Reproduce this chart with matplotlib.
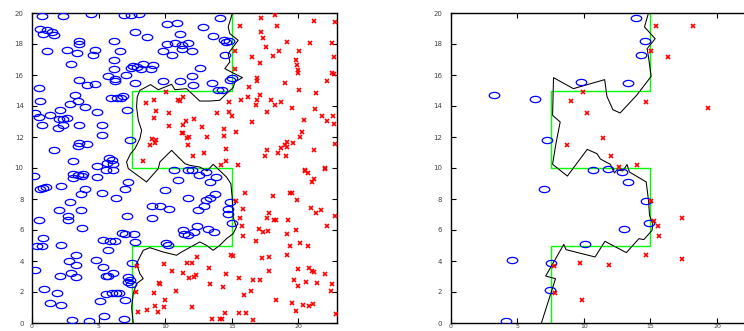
import numpy as np
import matplotlib
matplotlib.use("Agg")
import matplotlib.pyplot as plt
from matplotlib.path import Path

# ---------------- data: left panel (all training points) ----------------
blue_x = [0.78, 2.3, 4.43, 6.88, 7.43, 8.05, 14.1, 10.1, 10.85, 12.85, 13.6,
          0.6, 1.1, 1.48, 0.85, 1.68, 7.73, 8.6, 11.1, 6.15, 3.5, 3.5, 2.6, 3.4,
          1.1, 4.73, 4.6, 6.6, 10.1, 10.73, 11.23, 11.68, 11.23, 12.03, 9.85,
          10.48, 14.4, 14.6, 14.8, 14.48, 2.9, 6.18, 7.55, 7.4, 7.9, 8.35, 9.1,
          8.93, 8.18, 6.18, 5.73, 6.23, 7.03, 11.98, 12.6, 3.53, 4.15, 4.73,
          0.53, 6.23, 7.73, 9.85, 11.1, 12.1, 13.5, 13.98, 14.3, 15.03, 14.9,
          5.93, 6.4, 6.65, 6.85, 3.25, 0.6, 2.85, 3.43, 4.0, 4.9, 7.1, 0.23,
          0.55, 1.35, 2.1, 2.05, 2.35, 2.65, 2.3, 1.98, 3.53, 5.25, 5.25, 0.73,
          7.35, 3.53, 3.48, 4.1, 1.65, 3.05, 5.8, 5.98, 5.65, 6.1, 5.55, 6.1,
          4.9, 4.9, 3.1, 3.1, 3.73, 3.8, 3.43, 0.13, 7.18, 7.0, 10.63, 10.93,
          11.73, 12.03, 12.53, 13.1, 13.8, 13.4, 0.58, 0.85, 1.05, 2.18, 4.0,
          3.65, 5.25, 9.98, 11.75, 13.05, 13.35, 13.75, 2.83, 2.05, 3.68, 2.73,
          2.73, 6.28, 8.98, 9.6, 10.28, 12.48, 12.95, 14.85, 14.68, 14.73, 15.0,
          0.55, 3.78, 9.0, 7.13, 0.85, 2.15, 6.78, 6.95, 7.68, 7.73, 5.35, 5.85,
          6.23, 5.73, 11.33, 11.43, 11.73, 12.18, 12.4, 13.23, 13.65, 10.03,
          10.23, 0.4, 0.78, 3.28, 4.8, 2.8, 3.3, 5.35, 7.48, 0.25, 2.1, 2.9, 3.3,
          6.1, 5.73, 5.53, 7.23, 7.35, 7.43, 7.2, 0.93, 1.85, 5.55, 6.0, 6.3,
          6.53, 5.1, 7.0, 1.35, 2.15, 2.98, 4.25, 5.4, 6.88]
blue_y = [19.81, 19.81, 19.91, 19.85, 19.89, 19.96, 19.7, 19.31, 19.35, 19.1,
          18.52, 18.95, 18.88, 18.75, 18.67, 18.58, 18.77, 18.45, 18.67, 18.17,
          18.19, 18.02, 17.59, 17.44, 17.55, 17.59, 17.31, 17.55, 18.02, 18.06,
          17.91, 18.09, 17.66, 17.53, 17.55, 17.27, 18.24, 18.13, 18.19, 17.27,
          16.73, 16.99, 16.6, 16.45, 16.52, 16.73, 16.67, 16.37, 16.41, 16.37,
          15.96, 15.76, 16.0, 15.91, 16.47, 15.7, 15.33, 15.4, 15.18, 15.61,
          15.48, 15.59, 15.59, 15.33, 15.46, 15.05, 15.05, 15.81, 15.7, 14.54,
          14.49, 14.54, 14.62, 14.71, 14.32, 14.15, 14.32, 13.94, 13.59, 13.74,
          13.55, 13.29, 13.44, 13.72, 13.16, 13.18, 13.23, 12.75, 12.6, 12.75,
          12.75, 12.13, 12.75, 11.78, 11.61, 11.4, 11.53, 11.14, 10.43, 10.62,
          10.54, 10.32, 10.28, 9.89, 9.89, 10.13, 9.44, 9.63, 9.38, 9.46, 9.61,
          9.53, 9.48, 9.1, 8.67, 9.85, 9.2, 9.85, 9.89, 9.53, 9.74, 9.42, 9.1,
          8.62, 8.71, 8.75, 8.82, 8.62, 8.34, 8.39, 8.56, 8.09, 7.96, 8.09, 8.34,
          7.81, 7.31, 7.27, 6.88, 6.62, 8.06, 7.57, 7.53, 7.33, 7.27, 7.53, 7.83,
          7.38, 7.05, 6.47, 6.62, 6.15, 6.77, 6.9, 5.5, 5.05, 5.78, 5.74, 5.72,
          5.2, 5.33, 5.29, 5.29, 4.73, 5.98, 5.72, 5.7, 5.87, 6.24, 6.06, 5.85,
          5.18, 5.05, 4.95, 5.0, 4.41, 4.09, 3.98, 3.76, 3.61, 3.87, 3.4, 3.05,
          3.23, 2.97, 3.2, 3.05, 3.05, 2.97, 2.75, 2.49, 2.65, 2.17, 1.94, 1.85,
          1.96, 1.94, 1.94, 1.4, 1.51, 1.29, 1.16, 0.22, 0.13, 0.43, 0.28]

red_x = [18.28, 17.2, 15.6, 18.43, 21.18, 22.78, 17.23, 17.35, 19.18, 20.9,
         22.53, 17.55, 18.53, 20.08, 15.25, 16.55, 18.1, 22.65, 19.8, 17.15,
         19.93, 19.98, 19.98, 22.55, 22.65, 15.25, 16.9, 16.9, 18.98, 22.18,
         16.28, 20.08, 21.35, 17.1, 16.2, 16.9, 15.7, 14.8, 17.98, 18.68, 18.25,
         16.8, 11.35, 11.1, 17.65, 19.53, 21.25, 13.9, 14.78, 15.03, 16.55,
         20.43, 21.8, 22.15, 22.6, 22.65, 11.53, 12.15, 11.3, 12.78, 14.4, 15.35,
         11.35, 11.8, 11.65, 13.15, 14.4, 20.28, 20.13, 19.15, 19.6, 19.0, 11.75,
         14.53, 18.68, 19.15, 17.65, 21.2, 22.73, 12.9, 12.1, 17.53, 18.48,
         19.08, 14.6, 14.18, 15.45, 20.53, 21.98,
         10.05, 8.53, 9.15, 10.93, 9.28, 9.15, 10.3, 10.3, 11.23, 8.98, 9.28,
         9.23, 8.85, 8.35,
         20.5, 20.73, 22.0, 21.18, 21.0, 19.35, 19.5, 16.0, 18.08, 19.9, 15.28,
         20.93, 21.68, 21.3, 15.85, 17.78, 15.63, 17.63, 18.18, 18.35, 19.25,
         22.78, 15.73, 22.15, 19.8, 17.03, 17.38, 17.7, 19.15, 15.85, 16.8,
         19.35, 20.15, 20.73, 14.95, 15.08, 12.4, 11.65, 11.98, 17.78, 17.3,
         19.18, 20.83, 19.95, 17.78, 21.0, 21.2, 22.03, 11.3, 12.35, 12.2, 11.8,
         14.6, 13.3, 15.55, 16.63, 17.13, 19.7, 20.55, 21.38, 22.5, 13.35,
         14.33, 19.98, 16.43, 15.9, 22.48, 18.35, 19.53, 20.35, 20.8, 21.1,
         19.8, 12.0, 14.5, 15.53, 16.05, 13.5, 14.1, 14.25, 16.6, 22.8,
         7.9, 9.9, 10.53, 9.5, 9.6, 7.8, 9.13, 10.78, 9.98, 9.23, 9.9, 9.43,
         8.6, 7.93]
red_y = [19.87, 19.66, 19.16, 19.16, 19.46, 19.4, 18.8, 18.39, 18.11, 18.06,
         18.06, 17.81, 17.53, 17.55, 17.55, 17.16, 17.23, 17.14, 16.95, 16.77,
         16.62, 16.3, 16.13, 16.13, 16.09, 16.39, 15.78, 15.6, 15.48, 15.61,
         15.23, 15.05, 14.86, 14.73, 14.58, 14.41, 14.37, 14.28, 14.37, 14.28,
         14.04, 14.04, 14.58, 14.32, 13.63, 13.87, 13.81, 13.55, 13.63, 13.38,
         12.97, 13.12, 13.38, 13.03, 13.33, 12.82, 13.03, 13.14, 12.8, 12.67,
         12.54, 12.3, 12.28, 12.0, 11.94, 12.0, 12.09, 12.34, 12.0, 11.7, 11.61,
         11.48, 11.46, 11.23, 11.29, 11.33, 11.14, 11.14, 11.53, 10.97, 10.77,
         10.75, 10.97, 10.75, 10.45, 10.19, 10.19, 9.85, 9.98,
         14.92, 14.22, 14.37, 14.37, 13.68, 13.25, 13.55, 12.69, 12.26, 11.89,
         11.78, 11.63, 11.48, 10.47,
         9.81, 9.66, 9.96, 9.27, 9.1, 8.41, 8.41, 8.37, 8.19, 7.96, 7.87, 7.42,
         7.31, 7.08, 7.38, 7.12, 6.8, 6.77, 6.67, 6.67, 6.67, 6.88, 6.28, 6.28,
         6.02, 6.06, 5.89, 5.91, 5.74, 5.61, 5.31, 4.97, 5.16, 4.95, 4.37, 4.3,
         4.28, 3.89, 3.89, 4.26, 4.17, 4.39, 3.57, 3.46, 3.33, 3.33, 3.3, 3.18,
         3.25, 3.12, 2.95, 2.9, 3.18, 3.53, 2.9, 2.75, 2.75, 2.75, 2.67, 2.58,
         2.54, 2.52, 2.3, 2.39, 2.04, 1.83, 2.04, 1.48, 1.31, 1.14, 1.1, 1.25,
         0.77, 1.03, 0.65, 0.65, 0.65, 0.26, 0.26, 0.26, 0.22, 0.6,
         3.68, 3.83, 3.33, 2.6, 2.52, 2.0, 1.94, 2.09, 1.48, 1.1, 1.03, 0.71,
         0.82, 0.69]

# ---------------- data: right panel (support vectors) ----------------
sv_blue_x = [13.91, 14.58, 14.28, 9.75, 13.34, 3.22, 6.34, 7.25, 10.69, 11.83,
             12.87, 13.29, 6.98, 14.7, 14.9, 13.02, 10.05, 4.63, 7.52, 7.45, 4.18]
sv_blue_y = [19.68, 18.19, 17.29, 15.57, 15.46, 14.71, 14.47, 11.83, 9.85, 9.96,
             9.76, 9.12, 8.65, 7.85, 6.47, 6.09, 5.1, 4.06, 3.87, 2.13, 0.13]
sv_red_x = [15.4, 18.22, 15.07, 16.34, 9.95, 9.01, 14.63, 10.2, 19.31, 11.44,
            8.74, 12.0, 12.62, 13.96, 15.07, 15.27, 15.54, 15.62, 17.38, 14.65,
            17.33, 9.7, 11.88, 7.75, 7.8, 9.83]
sv_red_y = [19.14, 19.14, 17.55, 17.16, 14.9, 14.34, 14.28, 13.55, 13.87, 11.94,
            11.51, 10.75, 10.06, 10.19, 7.85, 6.58, 6.28, 5.59, 6.8, 4.37, 4.15,
            3.85, 3.76, 3.68, 1.96, 1.48]

# true class boundary (staircase)
true_x = [7.5, 7.5, 15, 15, 7.5, 7.5, 15, 15]
true_y = [0, 5, 5, 10, 10, 15, 15, 20]

# learned decision boundary, left panel
dec1_x = [7.6, 7.48, 7.6, 7.85, 8.35, 8.1, 7.85, 8.1, 8.35, 8.85, 9.85, 10.85,
          11.23, 12.6, 13.1, 13.6, 14.1, 14.6, 15.1, 15.35, 15.1, 15.03, 14.93,
          14.6, 13.6, 13.15, 12.6, 11.85, 11.48, 10.48, 9.6, 9.48, 8.6, 7.23,
          7.1, 7.4, 7.73, 8.1, 8.23, 7.98, 7.85, 7.9, 8.1, 8.9, 9.48, 10.48,
          10.73, 11.6, 12.6, 13.35, 14.1, 14.6, 15.1, 15.23, 15.8, 15.1, 14.48,
          14.85, 14.73, 15.48, 14.85, 14.73, 15.05]
dec1_y = [0.0, 1.03, 1.89, 2.54, 2.86, 3.18, 3.83, 4.26, 4.69, 4.86, 4.58, 4.37,
          4.58, 5.23, 5.01, 4.69, 5.01, 5.44, 5.76, 6.19, 6.84, 8.13, 8.99, 9.42,
          10.24, 9.81, 10.06, 10.17, 10.28, 11.14, 10.39, 9.96, 9.1, 9.96, 10.39,
          10.92, 11.25, 11.89, 12.43, 13.08, 13.94, 14.58, 15.01, 15.38, 15.05,
          15.4, 15.05, 15.12, 14.32, 14.32, 14.37, 14.8, 15.18, 15.55, 15.83,
          16.13, 16.41, 16.84, 17.38, 18.24, 18.67, 19.1, 20.0]

# learned decision boundary, right panel
dec2_x = [6.81, 7.87, 7.13, 8.49, 8.66, 10.84, 11.58, 13.19, 14.13, 14.5, 15.12,
          15.17, 14.93, 14.85, 14.68, 13.42, 13.24, 12.92, 12.48, 12.3, 11.98,
          11.24, 10.99, 10.25, 8.76, 7.65, 7.9, 8.22, 7.65, 7.72, 9.21, 11.56,
          11.73, 12.18, 12.72, 13.96, 15.05, 14.85, 14.75, 15.35, 14.55, 14.85]
dec2_y = [0.0, 2.86, 3.03, 5.07, 4.73, 4.26, 5.27, 4.54, 5.44, 5.38, 5.98, 6.41,
          6.95, 7.91, 9.1, 9.74, 10.22, 9.81, 9.89, 9.68, 10.24, 10.58, 10.92,
          11.2, 9.48, 10.24, 11.57, 12.97, 13.4, 15.83, 15.12, 15.7, 14.62,
          13.76, 13.55, 14.69, 15.91, 17.16, 17.7, 18.34, 19.1, 20.0]

x_ticks = [0, 5, 10, 15, 20]
y_ticks = [0, 2, 4, 6, 8, 10, 12, 14, 16, 18, 20]

# ---------------- drawing ----------------
W, H = 744, 331
fig = plt.figure(figsize=(W / 100, H / 100), dpi=100)

ell = Path.unit_circle()
ell = Path(ell.vertices * np.array([1.7, 1.0]), ell.codes)


def panel(ax, bx, by, rx, ry, dx, dy):
    ax.plot(true_x, true_y, color="#00ff00", lw=1.0, zorder=2)
    ax.plot(dx, dy, color="black", lw=0.75, zorder=3)
    ax.plot(bx, by, linestyle="none", marker=ell, markersize=7.6,
            markerfacecolor="none", markeredgecolor="#0000ff",
            markeredgewidth=0.9, zorder=4)
    ax.plot(rx, ry, linestyle="none", marker="x", markersize=2.4,
            color="#ff0000", markeredgewidth=1.2, zorder=4)
    ax.set_xlim(0, 22.9)
    ax.set_ylim(0, 20)
    ax.set_xticks(x_ticks)
    ax.set_yticks(y_ticks)
    ax.tick_params(direction="in", length=3.5, width=0.8, top=True,
                   right=True, labelsize=5, labelcolor="#444444", pad=6)
    ax.tick_params(axis="x", pad=0.8, labelsize=4.5)
    for s in ax.spines.values():
        s.set_linewidth(1.0)
        s.set_color("black")


axw = 305 / W
axb = 1 - 323 / H
axh = (323 - 13) / H
ax1 = fig.add_axes([32 / W, axb, axw, axh])
ax2 = fig.add_axes([450.7 / W, axb, axw, axh])

panel(ax1, blue_x, blue_y, red_x, red_y, dec1_x, dec1_y)
panel(ax2, sv_blue_x, sv_blue_y, sv_red_x, sv_red_y, dec2_x, dec2_y)

fig.savefig("out.png", dpi=100)
